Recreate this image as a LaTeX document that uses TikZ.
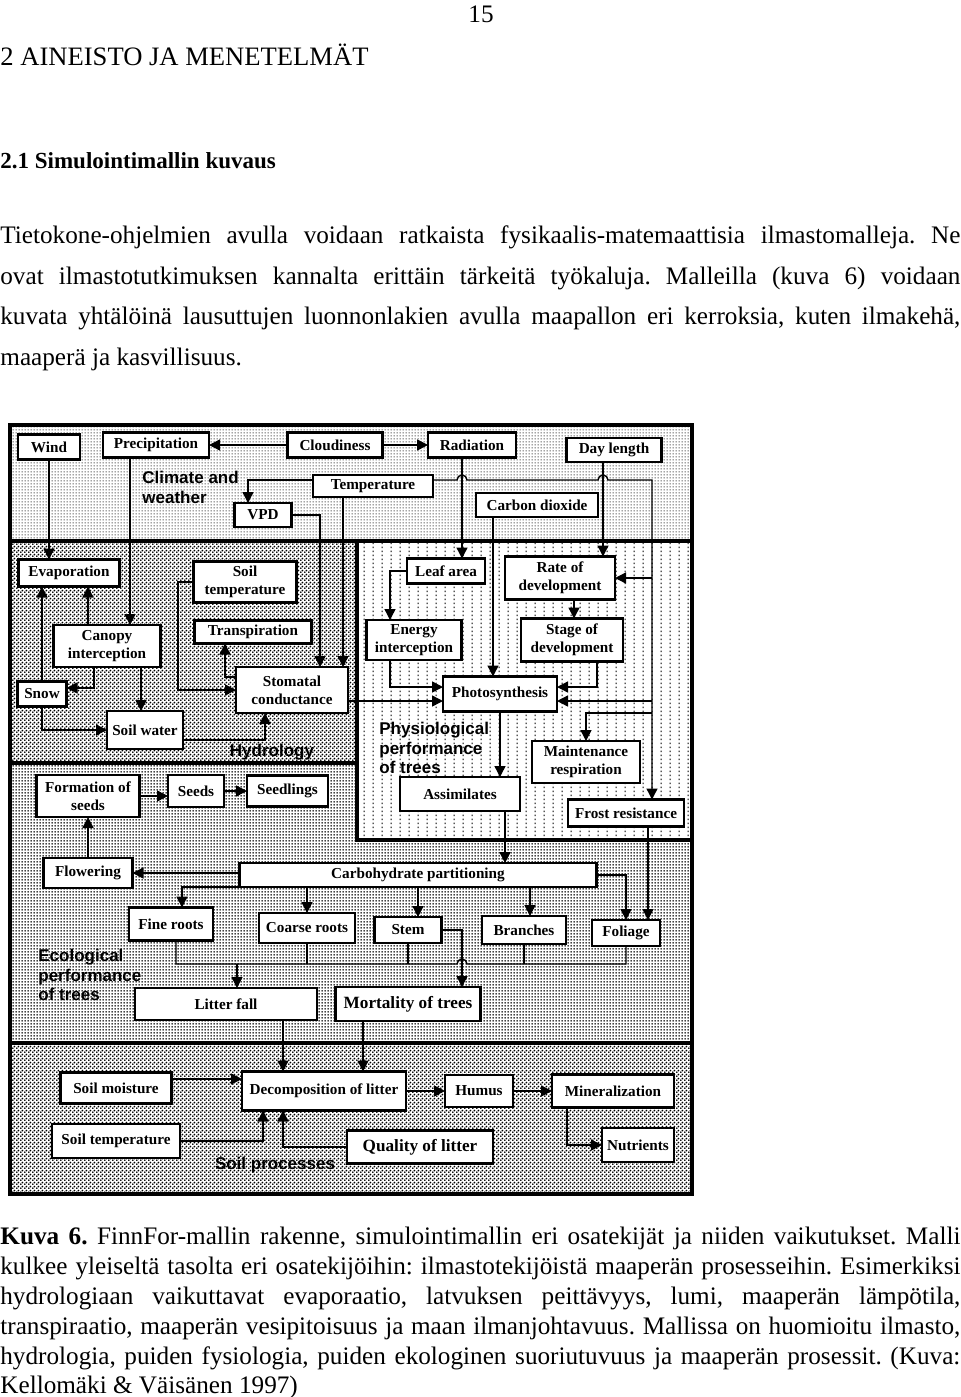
\documentclass[tikz,border=0pt]{standalone}
\usepackage{fontspec}
\setmainfont{Liberation Serif}
\newfontfamily\sansfam{Liberation Sans}
\usetikzlibrary{positioning,arrows.meta,patterns.meta}
\frenchspacing

\newcommand\boxfont{\fontsize{7.6}{9}\selectfont\bfseries}
\newcommand\bigboxfont{\fontsize{8.6}{10}\selectfont\bfseries}
\newcommand\labfont{\sansfam\fontsize{8.5}{9.7}\selectfont\bfseries}
\newcommand\bodyfont{\fontsize{12.6}{15}\selectfont}

\tikzdeclarepattern{name=climdots,tile size={(1.5pt,1.5pt)},bounding box={(0pt,0pt) and (1.5pt,1.5pt)},
	code={\fill (0.75pt,0.75pt) circle[radius=0.36pt];}}
\tikzdeclarepattern{name=ecodots,tile size={(1.5pt,1.5pt)},bounding box={(0pt,0pt) and (1.5pt,1.5pt)},
	code={\fill (0.75pt,0.75pt) circle[radius=0.52pt];}}
\tikzdeclarepattern{name=densedots,tile size={(2pt,2pt)},bounding box={(0pt,0pt) and (2pt,2pt)},
	code={\fill (0.5pt,0.5pt) circle[radius=0.6pt]; \fill (1.5pt,1.5pt) circle[radius=0.6pt];}}
\tikzdeclarepattern{name=rowdots,tile size={(4.5pt,2pt)},bounding box={(0pt,0pt) and (4.5pt,2pt)},
	code={\fill (2pt,0.55pt) rectangle (2.6pt,1.45pt);}}

\begin{document}
\begin{tikzpicture}[x=0.5pt,y=-0.5pt,
	box/.style 2 args={draw=black,line width=1.4pt,fill=white,inner sep=0pt,outer sep=0pt,align=center,font=\boxfont,minimum width=#1pt,minimum height=#2pt},
	arr/.style={line width=0.7pt,-{Triangle[length=5.5pt,width=5.5pt]}},
	wire/.style={line width=0.7pt},
	sect/.style={line width=1.7pt},
	lab/.style={font=\labfont,align=left,inner sep=0pt},
	txt/.style={anchor=base west,inner sep=0pt,font=\bodyfont}]
	\path[use as bounding box,fill=white] (0,0) rectangle (960,1397);

	\node[txt,anchor=base] (pagenum) at (481,22) {15};
	\node[txt,font=\fontsize{13.3}{15}\selectfont] (head1) at (0,65) {2 AINEISTO JA MENETELMÄT};
	\node[txt,font=\fontsize{11.5}{15}\selectfont\bfseries] (head2) at (0,168) {2.1 Simulointimallin kuvaus};
	\node[txt] (para1) at (0,243) {\makebox[480pt][s]{Tietokone-ohjelmien avulla voidaan ratkaista fysikaalis-matemaattisia ilmastomalleja. Ne}};
	\node[txt] (para2) at (0,284) {\makebox[480pt][s]{ovat ilmastotutkimuksen kannalta erittäin tärkeitä työkaluja. Malleilla (kuva 6) voidaan}};
	\node[txt] (para3) at (0,324) {\makebox[480pt][s]{kuvata yhtälöinä lausuttujen luonnonlakien avulla maapallon eri kerroksia, kuten ilmakehä,}};
	\node[txt] (para4) at (0,365) {maaperä ja kasvillisuus.};

	\fill[pattern=ecodots,pattern color=black] (10,541) rectangle (692,1043);
	\fill[pattern=climdots,pattern color=black] (10,425) rectangle (692,541);
	\fill[white] (10,541) rectangle (357,763);
	\fill[pattern=densedots,pattern color=black] (10,541) rectangle (357,763);
	\fill[white] (357,541) rectangle (692,840);
	\fill[pattern=rowdots,pattern color=black] (357,541) rectangle (692,840);
	\fill[pattern=densedots,pattern color=black] (10,1043) rectangle (692,1194);
	\draw[sect] (10,541) -- (692,541);
	\draw[sect] (10,763) -- (357,763);
	\draw[sect] (357,541) -- (357,840) -- (692,840);
	\draw[sect] (10,1043) -- (692,1043);
	\draw[sect] (10,425) rectangle (692,1194);

	\node[box={31}{12.5}] (wind) at (49,447) {Wind};
	\node[box={53}{12.5}] (precip) at (156,445) {Precipitation};
	\node[box={47.5}{12.5}] (cloud) at (335,445) {Cloudiness};
	\node[box={44}{12.5}] (rad) at (472,445) {Radiation};
	\node[box={47.5}{12}] (daylen) at (614,450) {Day length};
	\node[box={60}{11}] (temp) at (373,486) {Temperature};
	\node[box={28.5}{12}] (vpd) at (263,515) {VPD};
	\node[box={61}{12}] (co2) at (537,505) {Carbon dioxide};
	\node[lab,anchor=north west] (clim_lab) at (142,471) {Climate and\\weather};

	\node[box={50.5}{13.5}] (evap) at (69,573) {Evaporation};
	\node[box={51.5}{20.5}] (soiltemp) at (245,582) {Soil\\temperature};
	\node[box={58.5}{11.5}] (transp) at (253,632) {Transpiration};
	\node[box={53.5}{21}] (canopy) at (107,646) {Canopy\\interception};
	\node[box={24.5}{12.5}] (snow) at (42,694) {Snow};
	\node[box={56}{23}] (stomatal) at (292,690) {Stomatal\\conductance};
	\node[box={38}{19}] (soilwater) at (145,730) {Soil water};
	\node[lab] (hydro_lab) at (272,752) {Hydrology};

	\node[box={39}{12.5}] (leafarea) at (446,571) {Leaf area};
	\node[box={55}{21.5}] (rate) at (560,578) {Rate of\\development};
	\node[box={47.5}{20}] (energy) at (414,640) {Energy\\interception};
	\node[box={51}{21.5}] (stage) at (572,640) {Stage of\\development};
	\node[box={57}{17.5}] (photo) at (500,694) {Photosynthesis};
	\node[box={60}{17}] (assim) at (460,794) {Assimilates};
	\node[box={54}{21}] (maint) at (586,762) {Maintenance\\respiration};
	\node[box={58}{13.5}] (frost) at (626,813) {Frost resistance};
	\node[lab,anchor=north west] (phys_lab) at (379,722) {Physiological\\performance\\of trees};
	\coordinate (photo_w1) at ([yshift=3.5pt]photo.west);
	\coordinate (photo_w2) at ([yshift=-3.5pt]photo.west);
	\coordinate (photo_e1) at ([yshift=3.5pt]photo.east);
	\coordinate (photo_e2) at ([yshift=-3.5pt]photo.east);

	\node[box={51.5}{21}] (formation) at (88,796) {Formation of\\seeds};
	\node[box={28}{16}] (seeds) at (196,791) {Seeds};
	\node[box={40.5}{15.5},right=11.5pt of seeds] (seedlings) {Seedlings};
	\node[box={44.5}{15}] (flowering) at (88,873) {Flowering};
	\node[box={178.5}{12}] (carbo) at (418,875) {Carbohydrate partitioning};
	\node[box={42}{16.5}] (fineroots) at (171,924) {Fine roots};
	\node[box={48}{15}] (coarse) at (307,928) {Coarse roots};
	\node[box={33.5}{13}] (stem) at (408,930) {Stem};
	\node[box={42}{14}] (branches) at (524,930) {Branches};
	\node[box={34}{13}] (foliage) at (626,933) {Foliage};
	\node[box={91}{16}] (litter) at (226,1004) {Litter fall};
	\node[box={72.5}{17},font=\bigboxfont] (mortality) at (408,1004) {Mortality of trees};
	\node[lab,anchor=north west] (eco_lab) at (38,949) {Ecological\\performance\\of trees};

	\node[box={55.5}{15.5}] (soilmoist) at (116,1088) {Soil moisture};
	\node[box={82}{19.5}] (decomp) at (324,1091) {Decomposition of litter};
	\node[box={34}{16},right=19.5pt of decomp] (humus) {Humus};
	\node[box={61}{16.5},right=19.5pt of humus] (mineral) {Mineralization};
	\node[box={64}{17}] (soiltemp2) at (116,1141) {Soil temperature};
	\node[box={73}{16.5},font=\bigboxfont] (quality) at (420,1147) {Quality of litter};
	\node[box={36}{17}] (nutrients) at (638,1145) {Nutrients};
	\node[lab] (soil_lab) at (275,1165) {Soil processes};

	\coordinate (tline) at (652,480);
	\draw[arr] (cloud) -- (precip);
	\draw[arr] (cloud) -- (rad);
	\draw[arr] ([yshift=3pt]temp.west) -| (248,0 |- vpd.north);
	\draw[arr] ([yshift=3pt]temp.east) -- (457,480) arc[start angle=180,end angle=360,radius=5] -- (598,480) arc[start angle=180,end angle=360,radius=5] -- (tline) -- (tline |- frost.north);
	\draw[arr] (tline |- rate.east) -- (rate.east);
	\draw[arr] (tline |- photo_e2) -- (photo_e2);
	\draw[arr] (tline |- 0,713) -| (maint.north);
	\draw[arr] (wind) -- (wind |- evap.north);
	\draw[arr] (130,0 |- precip.south) -- (130,0 |- canopy.north);
	\draw[arr] (vpd.east) -| (320,0 |- stomatal.north);
	\draw[arr] (343,0 |- temp.south) -- (343,0 |- stomatal.north);
	\draw[arr] (462,0 |- rad.south) -- (462,0 |- leafarea.north);
	\draw[arr] (493,0 |- co2.south) -- (493,0 |- photo.north);
	\draw[arr] (603,0 |- daylen.south) -- (603,0 |- rate.north);

	\draw[arr] (88,0 |- canopy.north) -- (88,0 |- evap.south);
	\draw[arr] (snow) -- (snow |- evap.south);
	\draw[arr] (94,0 |- canopy.south) |- ([yshift=3pt]snow.east);
	\draw[arr] (141,0 |- canopy.south) -- (141,0 |- soilwater.north);
	\draw[arr] (snow.south) |- (soilwater.west);
	\draw[arr] ([yshift=-5pt]soilwater.east) -| (265,0 |- stomatal.south);
	\draw[arr] (soiltemp.west) -| (178,0 |- stomatal.west) -- (stomatal.west);
	\draw[arr] ([yshift=6.5pt]stomatal.west) -| (225,0 |- transp.south);

	\draw[arr] (leafarea.west) -| (390,0 |- energy.north);
	\draw[arr] (390,0 |- energy.south) |- (photo_w1);
	\draw[arr] (stomatal.east |- photo_w2) -- (photo_w2);
	\draw[arr] (574,0 |- rate.south) -- (574,0 |- stage.north);
	\draw[arr] (597,0 |- stage.south) |- (photo_e1);
	\draw[arr] (500,0 |- photo.south) -- (500,0 |- assim.north);
	\draw[arr] (505,0 |- assim.south) -- (505,0 |- carbo.north);
	\draw[arr] (648,0 |- frost.south) -- (648,0 |- foliage.north);

	\draw[arr] (flowering) -- (formation);
	\draw[arr] (formation.east) -- (formation.east -| seeds.west);
	\draw[arr] (seeds) -- (seedlings);
	\draw[arr] (carbo.west |- flowering.east) -- (flowering.east);
	\draw[arr] (carbo.south west) -| (182,0 |- fineroots.north);
	\draw[arr] (307,0 |- carbo.south) -- (307,0 |- coarse.north);
	\draw[arr] (418,0 |- carbo.south) -- (418,0 |- stem.north);
	\draw[arr] (530,0 |- carbo.south) -- (530,0 |- branches.north);
	\draw[arr] (carbo.east) -| (foliage.north);
	\coordinate (bus) at (237,964);
	\draw[wire] (176,0 |- fineroots.south) |- (457,964) arc[start angle=180,end angle=360,radius=5] -| (foliage.south);
	\draw[wire] (coarse.south) -- (coarse.south |- bus);
	\draw[wire] (stem.south) -- (stem.south |- bus);
	\draw[wire] (branches.south) -- (branches.south |- bus);
	\draw[arr] (bus) -- (bus |- litter.north);
	\draw[arr] (stem.east) -| (462,0 |- mortality.north);

	\draw[arr] (283,0 |- litter.south) -- (283,0 |- decomp.north);
	\draw[arr] (363,0 |- mortality.south) -- (363,0 |- decomp.north);
	\draw[arr] (soilmoist.east |- 0,1079) -- (decomp.west |- 0,1079);
	\draw[arr] (soiltemp2.east) -| (263,0 |- decomp.south);
	\draw[arr] (quality.west) -| (283,0 |- decomp.south);
	\draw[arr] (decomp) -- (humus);
	\draw[arr] (humus) -- (mineral);
	\draw[arr] (567,0 |- mineral.south) |- (nutrients.west);

	\node[txt] (cap1) at (0,1244) {\makebox[480pt][s]{\textbf{Kuva 6.} FinnFor-mallin rakenne, simulointimallin eri osatekijät ja niiden vaikutukset. Malli}};
	\node[txt] (cap2) at (0,1274) {\makebox[480pt][s]{kulkee yleiseltä tasolta eri osatekijöihin: ilmastotekijöistä maaperän prosesseihin. Esimerkiksi}};
	\node[txt] (cap3) at (0,1304) {\makebox[480pt][s]{hydrologiaan vaikuttavat evaporaatio, latvuksen peittävyys, lumi, maaperän lämpötila,}};
	\node[txt] (cap4) at (0,1334) {\makebox[480pt][s]{transpiraatio, maaperän vesipitoisuus ja maan ilmanjohtavuus. Mallissa on huomioitu ilmasto,}};
	\node[txt] (cap5) at (0,1364) {\makebox[480pt][s]{hydrologia, puiden fysiologia, puiden ekologinen suoriutuvuus ja maaperän prosessit. (Kuva:}};
	\node[txt] (cap6) at (0,1393) {Kellomäki \& Väisänen 1997)};
\end{tikzpicture}
\end{document}
